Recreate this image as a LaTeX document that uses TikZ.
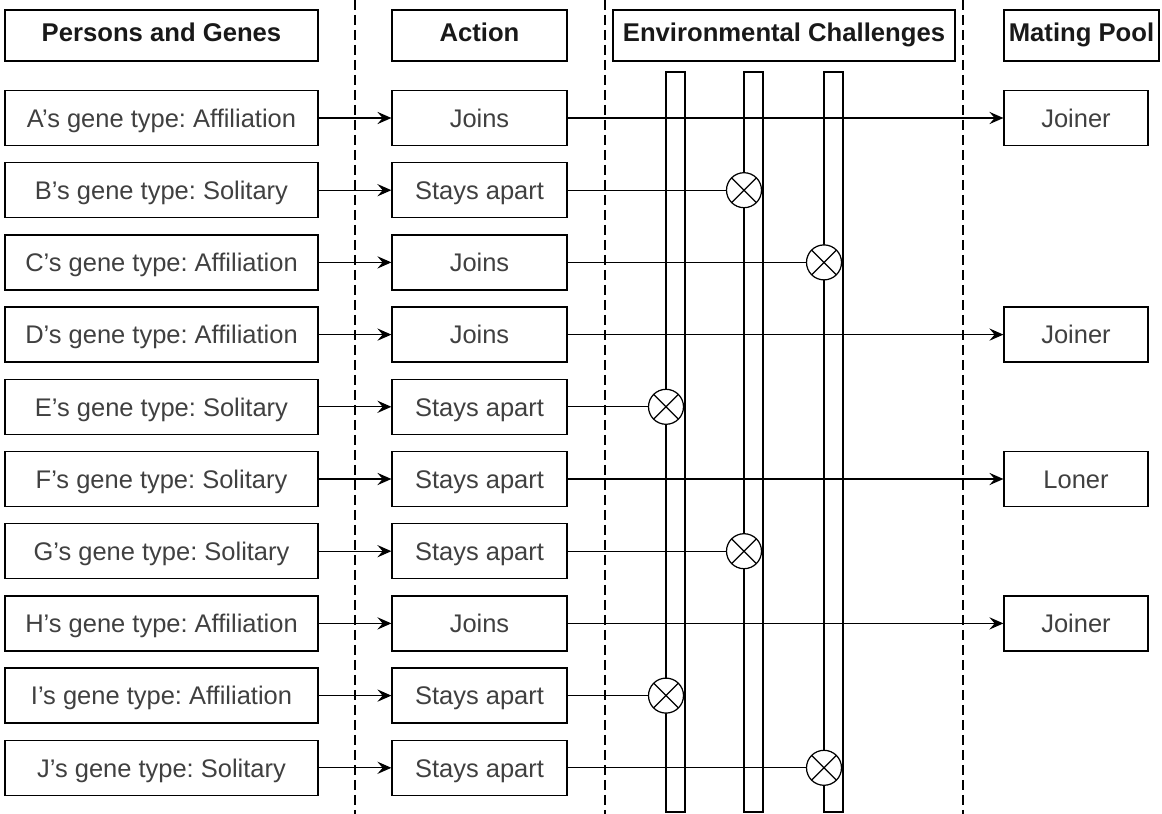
\documentclass[tikz,border=0pt]{standalone}
\usepackage{fontspec}
\setmainfont{Liberation Sans}
\usetikzlibrary{arrows.meta}
\frenchspacing

\begin{document}
\begin{tikzpicture}[x=0.02cm, y=-0.02cm, line width=0.7pt,
    box/.style={rectangle, draw, inner sep=0pt, minimum height=1.1cm, text height=2ex, text depth=0ex,
        text=black!75, font=\fontsize{14.5}{17}\selectfont},
    head/.style={box, minimum height=1.02cm, text height=1.6ex, text depth=0.2ex,
        text=black!90, font=\fontsize{14.6}{17}\selectfont\bfseries},
    person/.style={box, minimum width=6.26cm},
    act/.style={box, minimum width=3.5cm},
    pool/.style={box, minimum width=2.88cm},
    xcirc/.style={circle, draw, fill=white, minimum size=0.7cm, inner sep=0pt,
        path picture={\draw (path picture bounding box.north west) -- (path picture bounding box.south east)
            (path picture bounding box.south west) -- (path picture bounding box.north east);}},
    arr/.style={-{Stealth[length=8pt, width=7pt, inset=3pt]}},
    divider/.style={dash pattern=on 0.2cm off 0.1cm}
]
    \useasboundingbox (0,0) rectangle (1162,814);

    % column dividers
    \draw[divider] (355,0) -- (355,814);
    \draw[divider] (605,0) -- (605,814);
    \draw[divider] (963,0) -- (963,814);

    % challenge bars
    \draw (666,72) rectangle (685,812);
    \draw (744,72) rectangle (763,812);
    \draw (824,72) rectangle (843,812);

    \node[head, minimum width=6.26cm] (hp) at (161.5,35.5) {Persons and Genes};
    \node[head, minimum width=3.5cm] (ha) at (479.5,35.5) {Action};
    \node[head, minimum width=6.84cm] (he) at (784,35.5) {Environmental Challenges};
    \node[head, minimum width=3.1cm] (hm) at (1081.5,35.5) {Mating Pool};

    \node[person] (p1) at (161.5,118) {A's gene type: Affiliation};
    \node[person] (p2) at (161.5,190.2) {B's gene type: Solitary};
    \node[person] (p3) at (161.5,262.4) {C's gene type: Affiliation};
    \node[person] (p4) at (161.5,334.6) {D's gene type: Affiliation};
    \node[person] (p5) at (161.5,406.8) {E's gene type: Solitary};
    \node[person] (p6) at (161.5,479) {F's gene type: Solitary};
    \node[person] (p7) at (161.5,551.2) {G's gene type: Solitary};
    \node[person] (p8) at (161.5,623.4) {H's gene type: Affiliation};
    \node[person] (p9) at (161.5,695.6) {I's gene type: Affiliation};
    \node[person] (p10) at (161.5,767.8) {J's gene type: Solitary};

    \node[act] (a1) at (479.5,118) {Joins};
    \node[act] (a2) at (479.5,190.2) {Stays apart};
    \node[act] (a3) at (479.5,262.4) {Joins};
    \node[act] (a4) at (479.5,334.6) {Joins};
    \node[act] (a5) at (479.5,406.8) {Stays apart};
    \node[act] (a6) at (479.5,479) {Stays apart};
    \node[act] (a7) at (479.5,551.2) {Stays apart};
    \node[act] (a8) at (479.5,623.4) {Joins};
    \node[act] (a9) at (479.5,695.6) {Stays apart};
    \node[act] (a10) at (479.5,767.8) {Stays apart};

    \node[xcirc] (x2) at (744,190.2) {};
    \node[xcirc] (x3) at (824,262.4) {};
    \node[xcirc] (x5) at (666,406.8) {};
    \node[xcirc] (x7) at (744,551.2) {};
    \node[xcirc] (x9) at (666,695.6) {};
    \node[xcirc] (x10) at (824,767.8) {};

    \node[pool] (m1) at (1076,118) {Joiner};
    \node[pool] (m4) at (1076,334.6) {Joiner};
    \node[pool] (m6) at (1076,479) {Loner};
    \node[pool] (m8) at (1076,623.4) {Joiner};

    \draw[arr] (p1) -- (a1);
    \draw[arr] (p2) -- (a2);
    \draw[arr] (p3) -- (a3);
    \draw[arr] (p4) -- (a4);
    \draw[arr] (p5) -- (a5);
    \draw[arr] (p6) -- (a6);
    \draw[arr] (p7) -- (a7);
    \draw[arr] (p8) -- (a8);
    \draw[arr] (p9) -- (a9);
    \draw[arr] (p10) -- (a10);

    \draw[arr] (a1) -- (m1);
    \draw[arr] (a4) -- (m4);
    \draw[arr] (a6) -- (m6);
    \draw[arr] (a8) -- (m8);

    \draw (a2) -- (x2);
    \draw (a3) -- (x3);
    \draw (a5) -- (x5);
    \draw (a7) -- (x7);
    \draw (a9) -- (x9);
    \draw (a10) -- (x10);
\end{tikzpicture}
\end{document}
